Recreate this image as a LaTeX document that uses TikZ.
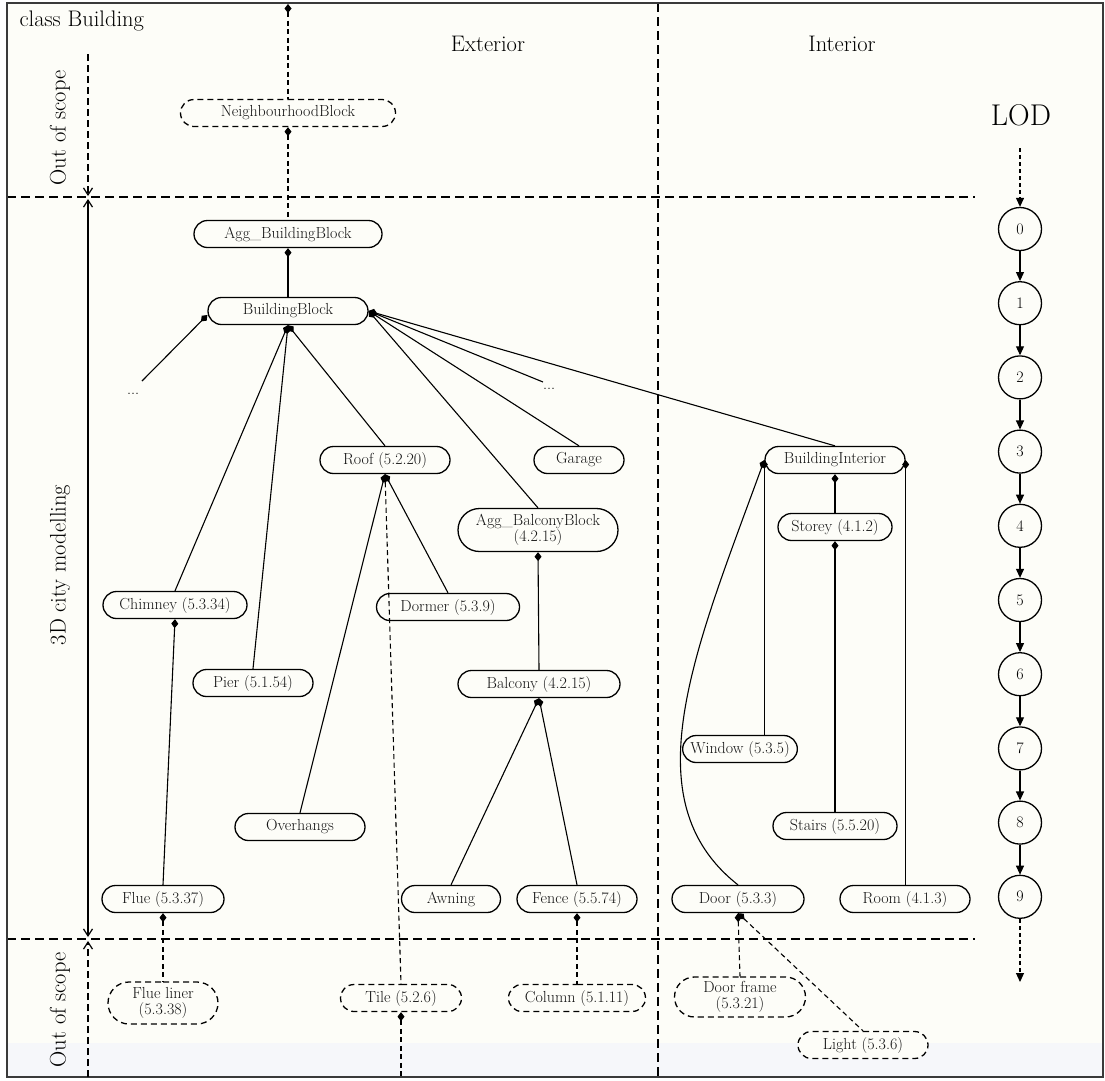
\documentclass[tikz,border=0pt]{standalone}
\usetikzlibrary{shapes.misc,arrows.meta}
\definecolor{bgc}{HTML}{FDFDF8}
\definecolor{stripc}{HTML}{F6F7FA}
\definecolor{framec}{HTML}{3A3A3A}
\definecolor{txtc}{HTML}{151515}
\newcommand{\fsn}{\fontsize{16}{18}\selectfont}
\newcommand{\fsh}{\fontsize{22.5}{26}\selectfont}
\newcommand{\fsl}{\fontsize{30}{34}\selectfont}
\tikzset{
  cls/.style={rounded rectangle, draw, line width=1.3pt, minimum height=27pt, inner xsep=5pt, inner ysep=2pt, font=\fsn, fill=bgc, align=center, text=txtc},
  clsd/.style={cls, dash pattern=on 6pt off 4pt},
  lodc/.style={circle, draw, line width=1.3pt, minimum size=43pt, inner sep=0pt, font=\fsn, fill=bgc},
  comp/.style={{Diamond[length=9pt,width=7pt]}-, line width=1.1pt},
  compd/.style={comp, dash pattern=on 5pt off 3.5pt},
  divider/.style={line width=1.5pt, dash pattern=on 9pt off 5pt},
  scopearr/.style={line width=1.2pt},
  lodarr/.style={-{Triangle[length=9pt,width=8pt]}, line width=1.1pt},
  lodarrd/.style={lodarr, dash pattern=on 4pt off 3pt},
}
\begin{document}
\begin{tikzpicture}[x=1pt,y=-1pt]
\useasboundingbox (0,0) rectangle (1105,1080);
% background
\fill[white] (0,0) rectangle (1105,1080);
\fill[bgc] (7,3) rectangle (1103,1077);
\fill[stripc] (7,1043) rectangle (1103,1077);
% dividers
\draw[divider] (658,3) -- (658,1077);
\draw[divider] (7,197) -- (975,197);
\draw[divider] (7,939) -- (975,939);
\draw[framec, line width=2.5pt] (7,3) rectangle (1103,1077);

% headings
\node[font=\fsh, anchor=west] (title) at (16,21) {class Building};
\node[font=\fsh] (ext) at (488,44) {Exterior};
\node[font=\fsh] (int) at (842,44) {Interior};
\node[font=\fsh, rotate=90] (oos1) at (60,128) {Out of scope};
\node[font=\fsh, rotate=90] (city) at (60,565) {3D city modelling};
\node[font=\fsh, rotate=90] (oos2) at (60,1010) {Out of scope};

% scope arrows
\coordinate (sa0) at (88,54);
\coordinate (sa1) at (88,196);
\coordinate (sa2) at (88,199);
\coordinate (sa3) at (88,937);
\coordinate (sa4) at (88,941);
\coordinate (sa5) at (88,1077);
\draw[scopearr, dash pattern=on 7pt off 4pt, -{Straight Barb[length=7pt,width=9pt]}] (sa0) -- (sa1);
\draw[scopearr, {Straight Barb[length=7pt,width=9pt]}-{Straight Barb[length=7pt,width=9pt]}] (sa2) -- (sa3);
\draw[scopearr, dash pattern=on 7pt off 4pt, -{Straight Barb[length=7pt,width=9pt]}] (sa5) -- (sa4);

% class nodes
\node[clsd, minimum width=225pt] (nb) at (288,113) {NeighbourhoodBlock};
\node[cls, minimum width=198pt] (abb) at (288,234) {Agg\_BuildingBlock};
\node[cls, minimum width=170pt] (bb) at (288,311) {BuildingBlock};
\node[cls, minimum width=140pt] (roof) at (385,460) {Roof (5.2.20)};
\node[cls, minimum width=100pt] (garage) at (579,460) {Garage};
\node[cls, minimum width=170pt, minimum height=43pt, inner ysep=1pt] (abal) at (538,530) {Agg\_BalconyBlock\\[-2pt](4.2.15)};
\node[cls, minimum width=150pt] (bi) at (835,460) {BuildingInterior};
\node[cls, minimum width=124pt] (storey) at (835,527) {Storey (4.1.2)};
\node[cls, minimum width=154pt] (chim) at (175,605) {Chimney (5.3.34)};
\node[cls, minimum width=153pt] (dorm) at (448,607) {Dormer (5.3.9)};
\node[cls, minimum width=130pt] (pier) at (253,683) {Pier (5.1.54)};
\node[cls, minimum width=172pt] (bal) at (539,684) {Balcony (4.2.15)};
\node[cls, minimum width=108pt] (win) at (740,749) {Window (5.3.5)};
\node[cls, minimum width=140pt] (over) at (300,827) {Overhangs};
\node[cls, minimum width=134pt] (stairs) at (835,826) {Stairs (5.5.20)};
\node[cls, minimum width=132pt] (flue) at (163,899) {Flue (5.3.37)};
\node[cls, minimum width=109pt] (awn) at (451,899) {Awning};
\node[cls, minimum width=130pt] (fence) at (577,899) {Fence (5.5.74)};
\node[cls, minimum width=142pt] (door) at (738,899) {Door (5.3.3)};
\node[cls, minimum width=140pt] (room) at (905,899) {Room (4.1.3)};
% out of scope nodes
\node[clsd, minimum width=120pt, minimum height=42pt, inner ysep=1pt] (fliner) at (163,1003) {Flue liner\\[-2pt](5.3.38)};
\node[clsd, minimum width=131pt] (tile) at (401,998) {Tile (5.2.6)};
\node[clsd, minimum width=147pt] (column) at (577,998) {Column (5.1.11)};
\node[clsd, minimum width=141pt, minimum height=40pt, inner ysep=1pt] (dframe) at (740,997) {Door frame\\[-2pt](5.3.21)};
\node[clsd, minimum width=140pt] (light) at (863,1045) {Light (5.3.6)};

% dots
\node[font=\fsn] (dotsL) at (133,394) {...};
\node[font=\fsn] (dotsR) at (549,389) {...};
\coordinate (eL) at (142,381);
\coordinate (eR) at (543,382);

% connectors
\coordinate (topN) at (288,4);
\coordinate (botT) at (401,1077);
\draw[compd] (topN) -- (nb.north);
\draw[compd] (nb.south) -- (abb.north);
\draw[comp] (abb.south) -- (bb.north);
\draw[comp] ([yshift=-4pt]bb.west) -- (eL);
\draw[comp] (bb.south) -- (chim.north);
\draw[comp] (bb.south) -- (pier.north);
\draw[comp] (bb.south) -- (roof.north);
\draw[comp] (bb.east) -- (abal.north);
\draw[comp] (bb.east) -- (garage.north);
\draw[comp] (bb.east) -- (eR);
\draw[comp] (bb.east) -- (bi.north);
\draw[comp] (roof.south) -- (over.north);
\draw[comp] (roof.south) -- (dorm.north);
\draw[compd] (roof.south) -- (tile.north);
\draw[comp] (abal.south) -- (bal.north);
\draw[comp] (bal.south) -- (awn.north);
\draw[comp] (bal.south) -- (fence.north);
\draw[comp] (chim.south) -- (flue.north);
\draw[compd] (flue.south) -- (fliner.north);
\draw[compd] (fence.south) -- (column.north);
\draw[compd] (tile.south) -- (botT);
\draw[comp] (bi.south) -- (storey.north);
\draw[comp] (storey.south) -- (stairs.north);
\draw[comp] (bi.west) -- (bi.west |- win.north);
\draw[comp] (bi.east) -- (bi.east |- room.north);
\draw[comp] (bi.west) .. controls (695,650) and (630,800) .. (door.north);
\draw[compd] (door.south) -- (dframe.north);
\draw[compd] (door.south) -- (light.north);

% LOD column
\node[font=\fsl] (lod) at (1021,115) {LOD};
\foreach \i in {0,...,9} {
  \node[lodc] (l\i) at (1020,{229+74.2*\i}) {\i};
}
\coordinate (lodtop) at (1020,148);
\coordinate (lodbot) at (1020,982);
\draw[lodarrd] (lodtop) -- (l0);
\foreach \i [evaluate=\i as \j using int(\i+1)] in {0,...,8} {
  \draw[lodarr] (l\i) -- (l\j);
}
\draw[lodarrd] (l9) -- (lodbot);
\end{tikzpicture}
\end{document}
